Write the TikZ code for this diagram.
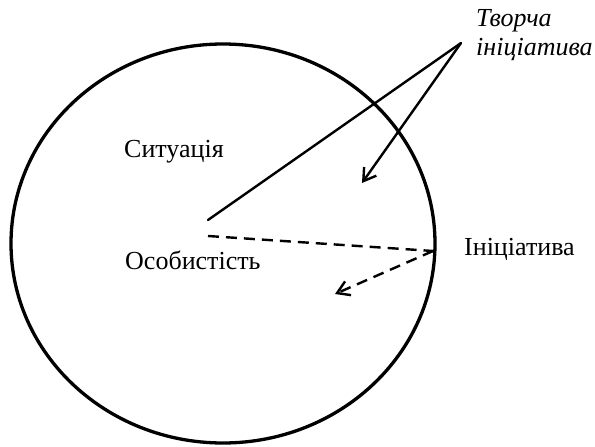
\documentclass[tikz,border=0pt]{standalone}
\usepackage{fontspec}
\setmainfont{Liberation Serif}
\usetikzlibrary{arrows.meta}
\begin{document}
\begin{tikzpicture}[x=1pt,y=-1pt,
  lbl/.style={inner sep=0pt,anchor=base west,font=\fontsize{26}{30}\selectfont},
  ilbl/.style={inner sep=0pt,anchor=base west,font=\fontsize{26}{30}\selectfont\itshape},
  conn/.style={line width=2.4pt,line cap=round},
  dsh/.style={dash pattern=on 11pt off 7pt,line cap=butt},
  tip/.style={-{Straight Barb[length=12pt,width=15pt,line width=2.4pt]}}]
\useasboundingbox (0,0) rectangle (595,447);
\draw[line width=3.3pt] (223,243.5) ellipse[x radius=212,y radius=199.5];
\node[lbl] (sit) at (124,157) {Ситуація};
\node[lbl] (os) at (125,269) {Особистість};
\node[lbl] (in) at (464,255) {Ініціатива};
\node[ilbl] (tv1) at (476,27) {Творча};
\node[ilbl] (tv2) at (476,56) {ініціатива};
\coordinate (apex) at (461,43);
\coordinate (s0) at (208,220);
\coordinate (t1) at (362,183);
\coordinate (d0) at (208,236);
\coordinate (d1) at (433,251);
\coordinate (t2) at (335,294);
\draw[conn] (s0) -- (apex);
\draw[conn,tip] (apex) -- (t1);
\draw[conn,dsh] (d0) -- (d1);
\draw[conn,dsh,tip] (d1) -- (t2);
\end{tikzpicture}
\end{document}
